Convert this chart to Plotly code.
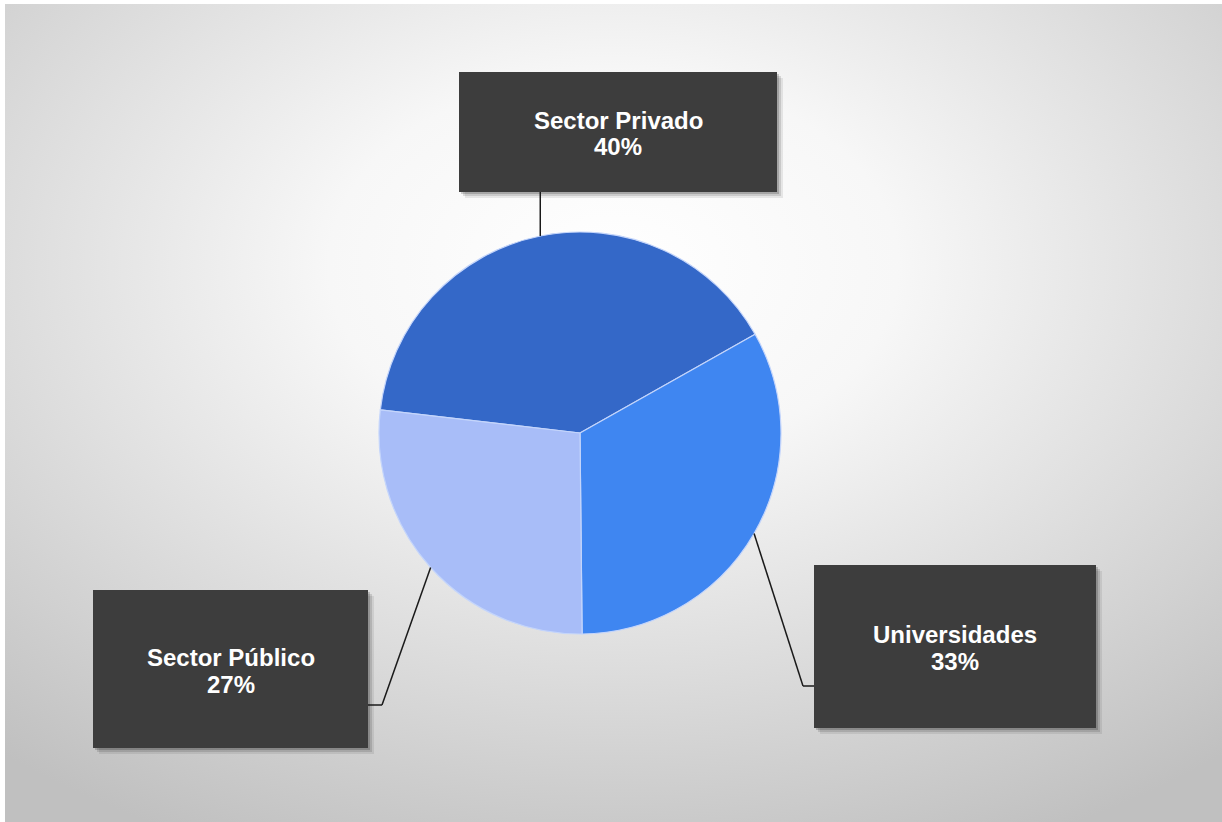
import math
import base64
import plotly.graph_objects as go

# ---- data ----
labels = ["Sector Privado", "Universidades", "Sector Público"]
values = [40, 33, 27]
colors = ["#3468C8", "#3F86F1", "#A8BDF8"]

W, H = 1222, 822

# pie geometry (pixels)
CX, CY, R = 580, 433, 201
ROT = -83.4  # start angle of first slice, clockwise from 12 o'clock


def px(x):
    return x / W


def py(y):
    return 1 - y / H


fig = go.Figure()
fig.add_trace(go.Pie(
    labels=labels,
    values=values,
    sort=False,
    direction="clockwise",
    rotation=ROT,
    textinfo="none",
    hoverinfo="label+percent",
    marker=dict(colors=colors, line=dict(color="#c4d5fb", width=1.2)),
    domain=dict(x=[px(CX - R), px(CX + R)], y=[py(CY + R), py(CY - R)]),
    showlegend=False,
))

# background radial gradient as inline SVG
svg = (
    '<svg xmlns="http://www.w3.org/2000/svg" width="1217" height="818" preserveAspectRatio="none">'
    '<defs><radialGradient id="g" cx="0.5" cy="0.32" r="0.78">'
    '<stop offset="0" stop-color="#ffffff"/>'
    '<stop offset="0.3" stop-color="#f7f7f7"/>'
    '<stop offset="1" stop-color="#c0c0c0"/>'
    '</radialGradient></defs>'
    '<rect x="0" y="0" width="1217" height="818" fill="url(#g)"/></svg>'
)
src = "data:image/svg+xml;base64," + base64.b64encode(svg.encode()).decode()

images = [dict(source=src, xref="paper", yref="paper", x=px(5), y=py(4),
               sizex=(W - 5) / W, sizey=(H - 4) / H, sizing="stretch",
               xanchor="left", yanchor="top", layer="below")]

# label boxes (pixel layout): x0, y0, x1, y1, line1 y, line2 y, leader elbow
boxes = [
    dict(x0=459, y0=72, x1=777, y1=192, t1=120, t2=147, path="vertical"),
    dict(x0=814, y0=565, x1=1096, y1=728, t1=634, t2=661, elbow=(803, 686), end=(814, 686)),
    dict(x0=93, y0=590, x1=368, y1=748, t1=657, t2=684, elbow=(382, 705), end=(368, 705)),
]

shapes = []
annotations = []
total = sum(values)
cum = 0
for i, (lab, v) in enumerate(zip(labels, values)):
    mid = math.radians(ROT + 360 * (cum + v / 2) / total)
    cum += v
    sx = CX + R * math.sin(mid)
    sy = CY - R * math.cos(mid)
    b = boxes[i]
    # shadow
    for off, a in [(6, 0.08), (4, 0.12), (2, 0.18)]:
        shapes.append(dict(type="rect", xref="paper", yref="paper",
                           x0=px(b["x0"] + off), x1=px(b["x1"] + off),
                           y0=py(b["y0"] + off), y1=py(b["y1"] + off),
                           fillcolor=f"rgba(0,0,0,{a})", line=dict(width=0), layer="above"))
    shapes.append(dict(type="rect", xref="paper", yref="paper",
                       x0=px(b["x0"]), x1=px(b["x1"]), y0=py(b["y0"]), y1=py(b["y1"]),
                       fillcolor="#3d3d3d", line=dict(width=0), layer="above"))
    # leader line
    if b.get("path") == "vertical":
        pts = [(sx, sy), (sx, b["y1"])]
    else:
        pts = [(sx, sy), b["elbow"], b["end"]]
    for (xa, ya), (xb, yb) in zip(pts[:-1], pts[1:]):
        shapes.append(dict(type="line", xref="paper", yref="paper",
                           x0=px(xa), y0=py(ya), x1=px(xb), y1=py(yb),
                           line=dict(color="#1a1a1a", width=1.5), layer="above"))
    tx = (b["x0"] + b["x1"]) / 2
    pct = f"{round(v / total * 100)}%"
    for txt, ty in [(lab, b["t1"]), (pct, b["t2"])]:
        annotations.append(dict(xref="paper", yref="paper", x=px(tx), y=py(ty),
                                text=f"<b>{txt}</b>", showarrow=False,
                                xanchor="center", yanchor="middle",
                                font=dict(family="Liberation Sans, Arial, sans-serif",
                                          size=24, color="#ffffff")))

fig.update_layout(
    width=W, height=H,
    margin=dict(l=0, r=0, t=0, b=0),
    paper_bgcolor="#ffffff",
    plot_bgcolor="rgba(0,0,0,0)",
    images=images,
    shapes=shapes,
    annotations=annotations,
)

fig.write_html("out.html")
